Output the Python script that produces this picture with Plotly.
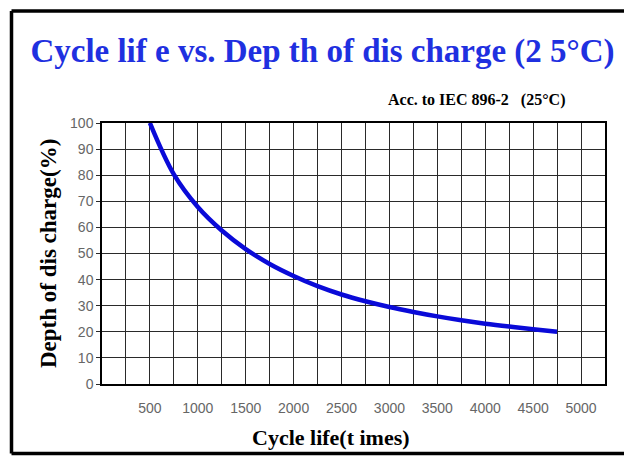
import plotly.graph_objects as go

# Data
cycle_life = [500, 750, 1000, 1250, 1500, 1750, 2000, 2250, 2500, 2750,
              3000, 3250, 3500, 3750, 4000, 4250, 4500, 4750]
depth_of_discharge = [100, 80.3, 67.8, 58.8, 51.7, 46.0, 41.4, 37.5, 34.3, 31.7,
                      29.5, 27.6, 25.9, 24.4, 23.1, 22.0, 21.0, 20.0]

x_tick_vals = [500, 1000, 1500, 2000, 2500, 3000, 3500, 4000, 4500, 5000]
y_tick_vals = [0, 10, 20, 30, 40, 50, 60, 70, 80, 90, 100]

title_text = "Cycle lif e vs. Dep th of dis charge (2 5°C)"
subtitle_text = "Acc. to IEC 896-2\u00a0\u00a0\u00a0(25°C)"
x_title = "Cycle life(t imes)"
y_title = "Depth of dis charge(%)"

W, H = 624, 456
L, R, T, B = 102, 19, 123, 72
pw, ph = W - L - R, H - T - B


def px(xp):
    return (xp - L) / pw


def py(yp):
    return (H - B - yp) / ph


serif = "Liberation Serif, Times New Roman, serif"
narrow = "Liberation Sans Narrow, Arial Narrow, Liberation Sans, sans-serif"

fig = go.Figure()
fig.add_trace(go.Scatter(
    x=cycle_life, y=depth_of_discharge, mode="lines",
    line=dict(color="#0a0ad8", width=4.5, shape="spline", smoothing=1.0),
    showlegend=False, hoverinfo="skip",
))

fig.update_layout(
    width=W, height=H,
    margin=dict(l=L, r=R, t=T, b=B),
    paper_bgcolor="white", plot_bgcolor="white",
    title=dict(text=title_text, x=322.5 / W, xanchor="center",
               y=1 - 50 / H, yanchor="middle",
               font=dict(family=serif, size=33, color="#1f30e0", weight="bold")),
    xaxis=dict(range=[0, 5250], tickvals=x_tick_vals, showgrid=True,
               gridcolor="#2a2a2a", gridwidth=1.3,
               showline=True, linecolor="black", linewidth=1.5, mirror=True,
               ticks="outside", ticklen=10, tickcolor="rgba(0,0,0,0)",
               tickfont=dict(family=narrow, size=14, color="#666666"),
               zeroline=False, fixedrange=True),
    yaxis=dict(range=[0, 100], tickvals=y_tick_vals, showgrid=True,
               gridcolor="#2a2a2a", gridwidth=1.3,
               showline=True, linecolor="black", linewidth=1.5, mirror=True,
               ticks="outside", ticklen=4, tickcolor="#2a2a2a",
               tickfont=dict(family=narrow, size=14, color="#666666"),
               zeroline=False, fixedrange=True),
)

# minor vertical gridlines every 250 (between labelled ticks)
fig.update_xaxes(minor=dict(tickvals=[v for v in range(250, 5250, 250)],
                            showgrid=True, gridcolor="#2a2a2a", gridwidth=1.3,
                            ticks=""))

fig.add_annotation(text=subtitle_text, xref="paper", yref="paper",
                   x=px(386), y=py(100), xanchor="left", yanchor="middle",
                   showarrow=False,
                   font=dict(family=serif, size=16, color="black", weight="bold"))
fig.add_annotation(text=x_title, xref="paper", yref="paper",
                   x=px(331), y=py(437), xanchor="center", yanchor="middle",
                   showarrow=False,
                   font=dict(family=serif, size=22, color="black", weight="bold"))
fig.add_annotation(text=y_title, xref="paper", yref="paper",
                   x=px(48), y=py(254), xanchor="center", yanchor="middle",
                   textangle=-90, showarrow=False,
                   font=dict(family=serif, size=23, color="black", weight="bold"))

# outer frame (top, left, bottom)
frame = dict(type="line", xref="paper", yref="paper",
             line=dict(color="black", width=3.5))
fig.add_shape(**frame, x0=px(11.5), y0=py(11), x1=px(624), y1=py(11))
fig.add_shape(**frame, x0=px(11.5), y0=py(11), x1=px(11.5), y1=py(453.5))
fig.add_shape(**frame, x0=px(11.5), y0=py(453.5), x1=px(624), y1=py(453.5))

fig.write_html(
    "out.html",
    config={"displayModeBar": False},
    post_script="document.body.style.margin='0';document.body.style.overflow='hidden';",
)
